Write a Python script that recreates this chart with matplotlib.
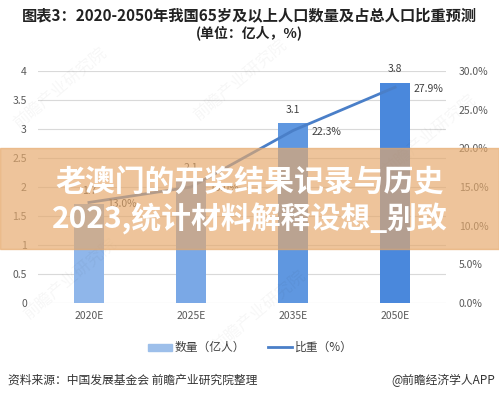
import matplotlib.pyplot as plt
from matplotlib.patches import Rectangle

plt.rcParams['font.family'] = ['Noto Sans CJK SC', 'DejaVu Sans']

# 数据
years = ['2020E', '2025E', '2035E', '2050E']
counts = [1.7, 2.1, 3.1, 3.8]          # 亿人
ratios = [13.0, 15.0, 22.3, 27.9]      # %
bar_colors = ['#8fb6ea', '#7aa8e6', '#5f97e0', '#4a88dc']
left_ticks = [0, 0.5, 1, 1.5, 2, 2.5, 3, 3.5, 4]
right_ticks = [0, 5, 10, 15, 20, 25, 30]

fig = plt.figure(figsize=(4.99, 3.99), dpi=100)
ax = fig.add_axes([0.076, 0.2406, 0.818, 0.5815])
ax2 = ax.twinx()

x = range(len(years))
ax.bar(x, counts, width=0.3, color=bar_colors, zorder=2)
for i, v in enumerate(counts):
    ax.annotate(f'{v}', (i, v), xytext=(0, 6), textcoords='offset points',
                ha='center', va='bottom', fontsize=7.5, color='#404040')

ax.set_ylim(0, 4)
ax.set_xlim(-0.5, 3.5)
ax.set_yticks(left_ticks)
ax.set_yticklabels([f'{t:g}' for t in left_ticks])
ax.grid(axis='y', color='#d9d9d9', linewidth=0.8, zorder=0)
ax.set_axisbelow(True)
ax.set_xticks(list(x))
ax.set_xticklabels(years)
ax.tick_params(length=0, labelsize=7.5, colors='#595959', pad=6)
ax.tick_params(axis='y', pad=8)
for s in ax.spines.values():
    s.set_visible(False)

ax2.plot(list(x), ratios, color='#4a7fc8', linewidth=2, zorder=3)
for i, r in enumerate(ratios):
    ax2.annotate(f'{r:.1f}%', (i, r), xytext=(13, -1), textcoords='offset points',
                 ha='left', va='center', fontsize=7.5, color='#404040')
ax2.set_ylim(0, 30)
ax2.set_yticks(right_ticks)
ax2.set_yticklabels([f'{t:.1f}%' for t in right_ticks])
ax2.tick_params(length=0, labelsize=7.5, colors='#595959', pad=9)
for s in ax2.spines.values():
    s.set_visible(False)

# 标题
fig.text(0.5, 0.962, '图表3：2020-2050年我国65岁及以上人口数量及占总人口比重预测',
         ha='center', va='center', fontsize=11, fontweight='bold', color='#222222')
fig.text(0.5, 0.918, '(单位：亿人，%)', ha='center', va='center',
         fontsize=10, fontweight='bold', color='#222222')

# 图例
fig.patches.append(Rectangle((148 / 499, 1 - 351 / 399), 24 / 499, 7 / 399,
                             transform=fig.transFigure, color='#9dbfea'))
fig.text(175 / 499, 1 - 347 / 399, '数量（亿人）', ha='left', va='center', fontsize=8.5, color='#404040')
fig.lines.append(plt.Line2D([268 / 499, 292 / 499], [1 - 347 / 399] * 2,
                            transform=fig.transFigure, color='#4a7fc8', linewidth=2))
fig.text(295 / 499, 1 - 347 / 399, '比重（%）', ha='left', va='center', fontsize=8.5, color='#404040')

# 来源
fig.text(8 / 499, 1 - 380 / 399, '资料来源：中国发展基金会 前瞻产业研究院整理',
         ha='left', va='center', fontsize=8.5, color='#333333')
fig.text(495 / 499, 1 - 380 / 399, '@前瞻经济学人APP',
         ha='right', va='center', fontsize=8.5, color='#333333')

# 水印
for wx, wy in [(0.12, 0.78), (0.48, 0.80), (0.52, 0.22), (0.86, 0.66), (0.14, 0.30)]:
    fig.text(wx, wy, '前瞻产业研究院', rotation=40, ha='center', va='center',
             fontsize=12, color='#000000', alpha=0.035)

# 覆盖横幅
fig.patches.append(Rectangle((0, 1 - 249 / 399), 1, 101 / 399, transform=fig.transFigure,
                             color='#e6a96c', alpha=0.68, zorder=10))
fig.text(0.5, 1 - 182 / 399, '老澳门的开奖结果记录与历史', ha='center', va='center',
         fontsize=21.5, fontweight='bold', color='white', zorder=11)
fig.text(0.5, 1 - 219 / 399, '2023,统计材料解释设想_别致', ha='center', va='center',
         fontsize=21.5, fontweight='bold', color='white', zorder=11)

fig.savefig('out.png', dpi=100, facecolor='white')
